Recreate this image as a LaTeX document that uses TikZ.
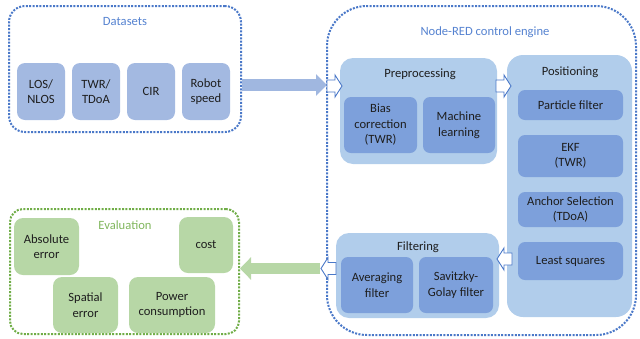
\documentclass[tikz,border=0pt]{standalone}
\usepackage{fontspec}
\setmainfont{Carlito}
\usetikzlibrary{arrows.meta}
\definecolor{bordblue}{HTML}{4A78C8}
\definecolor{titleblue}{HTML}{5582D0}
\definecolor{dsfill}{HTML}{A3B9E1}
\definecolor{stagefill}{HTML}{B1CDEB}
\definecolor{innerfill}{HTML}{7DA0DB}
\definecolor{arrowblue}{HTML}{A0B7E0}
\definecolor{greenfill}{HTML}{B7D7A6}
\definecolor{greenbord}{HTML}{70AD47}
\definecolor{greentitle}{HTML}{80B65C}
\definecolor{txt}{HTML}{1E1E1E}
\tikzset{
  container/.style={draw, line width=2pt, dash pattern=on 2pt off 1.4pt, inner sep=0pt},
  bluecont/.style={container, draw=bordblue},
  greencont/.style={container, draw=greenbord},
  dsbox/.style={fill=dsfill, rounded corners=8pt, inner sep=0pt, align=center, text=txt},
  stagebox/.style={fill=stagefill, inner sep=0pt},
  innerbox/.style={fill=innerfill, rounded corners=7pt, inner sep=0pt, align=center, text=txt},
  evalbox/.style={fill=greenfill, rounded corners=9pt, inner sep=0pt, align=center, text=txt},
  stagetitle/.style={text=txt, inner sep=0pt},
  hollow/.style={draw=bordblue, fill=white, line width=0.9pt, line join=miter},
  harrow/.pic={\path[hollow] (-15,-6) -- (-7,-6) -- (-7,-11) -- (0,0) -- (-7,11) -- (-7,6) -- (-15,6) -- cycle;}
}
\begin{document}
\begin{tikzpicture}[x=1pt, y=-1pt, font=\fontsize{12.6}{15.5}\selectfont]
\useasboundingbox (0,0) rectangle (640,338);

% Datasets
\node[bluecont, rounded corners=16pt, minimum width=232, minimum height=126] (datasets) at (125,69) {};
\node[text=titleblue, inner sep=0pt] (dstitle) at (125,22) {Datasets};
\node[dsbox, minimum width=48, minimum height=57] (los) at (41,91.5) {LOS/\\NLOS};
\node[dsbox, minimum width=48, minimum height=57] (twr) at (96,91.5) {TWR/\\TDoA};
\node[dsbox, minimum width=48, minimum height=57] (cir) at (151,91.5) {CIR};
\node[dsbox, minimum width=48, minimum height=57] (robot) at (206,91.5) {Robot\\speed};

% Node-RED
\node[bluecont, rounded corners=40pt, minimum width=309, minimum height=329] (nodered) at (481.5,170.5) {};
\node[text=titleblue, inner sep=0pt] (nrtitle) at (485,32) {Node-RED control engine};

\node[stagebox, rounded corners=13pt, minimum width=157, minimum height=106] (pre) at (418.5,111) {};
\node[stagetitle] (pretitle) at (420,74) {Preprocessing};
\node[innerbox, minimum width=73, minimum height=56] (bias) at (380.5,125) {Bias\\correction\\(TWR)};
\node[innerbox, minimum width=72, minimum height=56] (ml) at (459,125) {Machine\\learning};

\node[stagebox, rounded corners=16pt, minimum width=125, minimum height=262] (pos) at (569.5,186) {};
\node[stagetitle] (postitle) at (570,72) {Positioning};
\node[innerbox, minimum width=105, minimum height=30] (pf) at (570.5,105) {Particle filter};
\node[innerbox, minimum width=105, minimum height=42] (ekf) at (570.5,156) {EKF\\(TWR)};
\node[innerbox, minimum width=105, minimum height=35] (anchor) at (570.5,209.5) {Anchor Selection\\(TDoA)};
\node[innerbox, minimum width=105, minimum height=38] (ls) at (570.5,261) {Least squares};

\node[stagebox, rounded corners=13pt, minimum width=163, minimum height=85] (filt) at (417.5,275.5) {};
\node[stagetitle] (filttitle) at (418,247) {Filtering};
\node[innerbox, minimum width=72, minimum height=56] (avg) at (377,285) {Averaging\\filter};
\node[innerbox, minimum width=74, minimum height=56] (sg) at (456,285) {Savitzky-\\Golay filter};

% Evaluation
\node[greencont, rounded corners=13pt, minimum width=229, minimum height=125] (eval) at (124.5,271.5) {};
\node[text=greentitle, inner sep=0pt] (evtitle) at (125,225) {Evaluation};
\node[evalbox, minimum width=65, minimum height=57] (abs) at (46.5,246.5) {Absolute\\error};
\node[evalbox, minimum width=54, minimum height=56] (cost) at (206,245) {cost};
\node[evalbox, minimum width=65, minimum height=56] (spat) at (85.5,305) {Spatial\\error};
\node[evalbox, minimum width=86, minimum height=56] (power) at (172,305) {Power\\consumption};

% Arrows
\coordinate (a1s) at (datasets.east |- 0,85);
\coordinate (a1e) at (327,85);
\draw[arrowblue, line width=12pt, -{Triangle[length=11pt,width=21pt]}] (a1s) -- (a1e);
\coordinate (g1s) at (320,268.5);
\coordinate (g1e) at (eval.east |- 0,268.5);
\draw[greenfill, line width=11pt, -{Triangle[length=11pt,width=22pt]}] (g1s) -- (g1e);

\pic at (342,86) {harrow};
\pic at (511,86) {harrow};
\pic[rotate=180] at (497,259) {harrow};
\pic[rotate=180] at (321,268.5) {harrow};
\end{tikzpicture}
\end{document}
